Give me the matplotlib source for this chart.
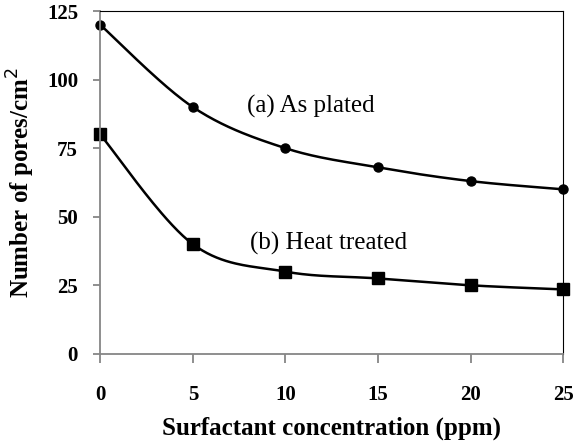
import numpy as np
import matplotlib
matplotlib.use("Agg")
from matplotlib import pyplot as plt

# data
conc = [0, 5, 10, 15, 20, 25]
as_plated = [120, 90, 75, 68, 63, 60]
heat_treated = [80, 40, 30, 27.5, 25, 23.5]


def smooth(x, y, n=40):
    """Catmull-Rom style smoothing, like Excel's smoothed line"""
    x = np.asarray(x, float)
    y = np.asarray(y, float)
    px = np.concatenate([[x[0]], x, [x[-1]]])
    py = np.concatenate([[y[0]], y, [y[-1]]])
    xs, ys = [], []
    for i in range(1, len(px) - 2):
        p0x, p1x, p2x, p3x = px[i - 1], px[i], px[i + 1], px[i + 2]
        p0y, p1y, p2y, p3y = py[i - 1], py[i], py[i + 1], py[i + 2]
        c1x, c1y = p1x + (p2x - p0x) / 6, p1y + (p2y - p0y) / 6
        c2x, c2y = p2x - (p3x - p1x) / 6, p2y - (p3y - p1y) / 6
        t = np.linspace(0, 1, n)
        b0, b1, b2, b3 = (1 - t) ** 3, 3 * t * (1 - t) ** 2, 3 * t ** 2 * (1 - t), t ** 3
        xs.append(b0 * p1x + b1 * c1x + b2 * c2x + b3 * p2x)
        ys.append(b0 * p1y + b1 * c1y + b2 * c2y + b3 * p2y)
    return np.concatenate(xs), np.concatenate(ys)


plt.rcParams['font.family'] = ['Liberation Serif', 'DejaVu Serif']

fig = plt.figure(figsize=(5.76, 4.44), dpi=100)
ax = fig.add_axes([0.174, 0.203, 0.804, 0.772])

sx, sy = smooth(conc, as_plated)
ax.plot(sx, sy, color='black', lw=1.8)
ax.plot(conc, as_plated, 'o', color='black', ms=6.5, clip_on=False)

sx, sy = smooth(conc, heat_treated)
ax.plot(sx, sy, color='black', lw=1.8)
ax.plot(conc, heat_treated, 's', color='black', ms=8.5, clip_on=False)

ax.text(7.9, 90.4, '(a) As plated', fontsize=18, va='center')
ax.text(8.1, 40.4, '(b) Heat treated', fontsize=18, va='center')

ax.set_xlim(0, 25)
ax.set_ylim(0, 125)
ax.set_xticks(range(0, 26, 5))
ax.set_yticks(range(0, 126, 25))

for s in ['left', 'bottom']:
    ax.spines[s].set_color('#868686')
    ax.spines[s].set_linewidth(1.3)
for s in ['top', 'right']:
    ax.spines[s].set_color('black')
    ax.spines[s].set_linewidth(0.8)

ax.tick_params(axis='x', direction='out', length=6.5, width=1.3, color='#868686', pad=16)
ax.tick_params(axis='y', direction='out', length=5, width=1.3, color='#868686', pad=11)
for lab in ax.get_xticklabels() + ax.get_yticklabels():
    lab.set_fontweight('bold')
    lab.set_fontsize(15)

ax.set_xlabel('Surfactant concentration (ppm)', fontsize=18, fontweight='bold', labelpad=8)
ax.set_ylabel('Number of pores/cm$^2$', fontsize=18, fontweight='bold', labelpad=7)

fig.savefig('out.png', dpi=100)
